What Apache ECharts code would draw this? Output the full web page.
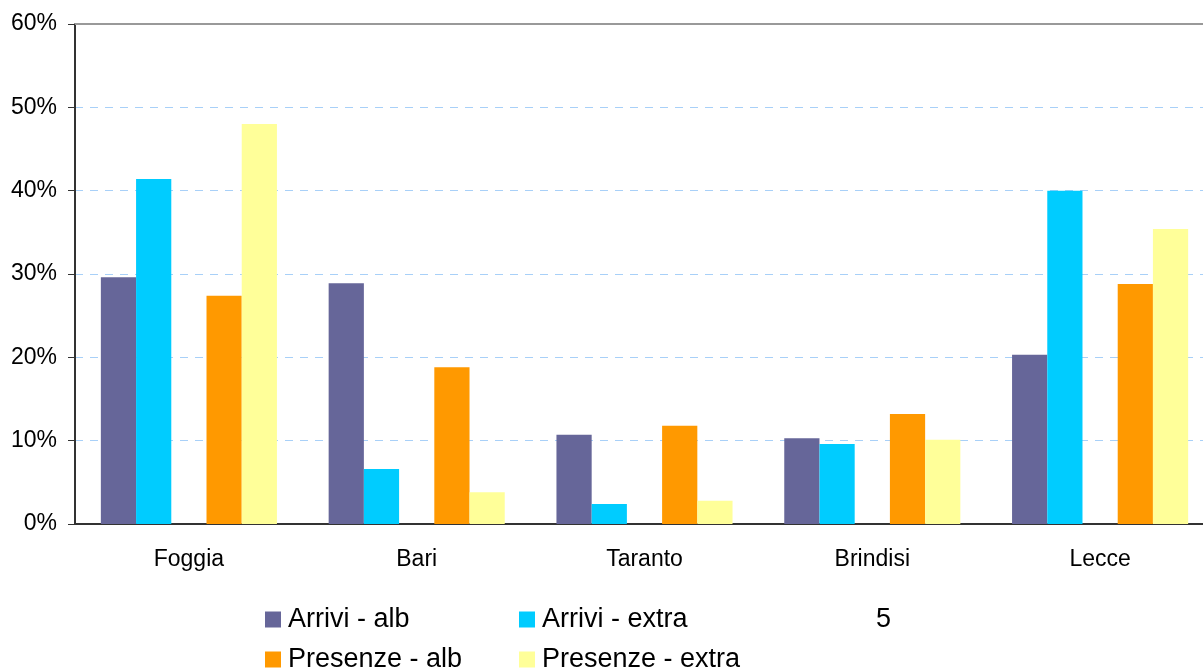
<!DOCTYPE html>
<html>
<head>
<meta charset="utf-8">
<script src="https://cdn.jsdelivr.net/npm/echarts@6/dist/echarts.min.js"></script>
<style>
html,body{margin:0;padding:0;background:#fff;overflow:hidden;}
#chart{width:1214px;height:671px;}
</style>
</head>
<body>
<div id="chart"></div>
<script>
const categories = ['Foggia', 'Bari', 'Taranto', 'Brindisi', 'Lecce'];
const arriviAlb = [29.6, 28.9, 10.7, 10.3, 20.3];
const arriviExtra = [41.4, 6.6, 2.4, 9.6, 40.0];
const serie5 = [null, null, null, null, null];
const presenzeAlb = [27.4, 18.8, 11.8, 13.2, 28.8];
const presenzeExtra = [48.0, 3.8, 2.8, 10.1, 35.4];
const yTicks = [0, 10, 20, 30, 40, 50, 60];

const FONT = 'Liberation Sans, Arial, sans-serif';
const chart = echarts.init(document.getElementById('chart'), null, {renderer: 'canvas'});

function legendAt(name, left, top) {
  return {
    data: [name], left: left, top: top, padding: 0,
    orient: 'horizontal', itemWidth: 16, itemHeight: 16, itemGap: 6,
    icon: 'rect', selectedMode: false,
    textStyle: {fontFamily: FONT, fontSize: 27, color: '#000', padding: [0, 0, 0, 2]}
  };
}

function bar(name, data, color) {
  return {
    name: name, type: 'bar', data: data, barGap: '0%', barCategoryGap: '22.7%',
    itemStyle: {color: color}, animation: false
  };
}

chart.setOption({
  animation: false,
  grid: {left: 75, right: 0, top: 24, bottom: 147, containLabel: false},
  legend: [
    legendAt('Arrivi - alb', 265, 606),
    legendAt('Arrivi - extra', 519, 606),
    legendAt('5', 853, 606),
    legendAt('Presenze - alb', 265, 646),
    legendAt('Presenze - extra', 519, 646)
  ],
  xAxis: [{
    type: 'category', data: categories, position: 'bottom',
    axisLine: {show: true, lineStyle: {color: '#333', width: 2}},
    axisTick: {show: false},
    axisLabel: {fontFamily: FONT, fontSize: 23, color: '#000', margin: 24}
  }, {
    type: 'category', data: categories, position: 'top',
    axisLine: {show: true, lineStyle: {color: '#999', width: 2}},
    axisTick: {show: false}, axisLabel: {show: false}
  }],
  yAxis: {
    type: 'value', min: yTicks[0], max: yTicks[yTicks.length - 1], interval: 10,
    axisLine: {show: true, lineStyle: {color: '#333', width: 2}},
    axisTick: {show: true, length: 7, lineStyle: {color: '#333', width: 1}},
    axisLabel: {fontFamily: FONT, fontSize: 23, color: '#000', margin: 18, formatter: '{value}%'},
    splitLine: {show: true, lineStyle: {color: '#a8d0f8', width: 1, type: [8, 7]}}
  },
  series: [
    bar('Arrivi - alb', arriviAlb, '#666699'),
    bar('Arrivi - extra', arriviExtra, '#00ccff'),
    bar('5', serie5, '#ffffff'),
    bar('Presenze - alb', presenzeAlb, '#ff9900'),
    bar('Presenze - extra', presenzeExtra, '#ffff99')
  ]
});
</script>
</body>
</html>
